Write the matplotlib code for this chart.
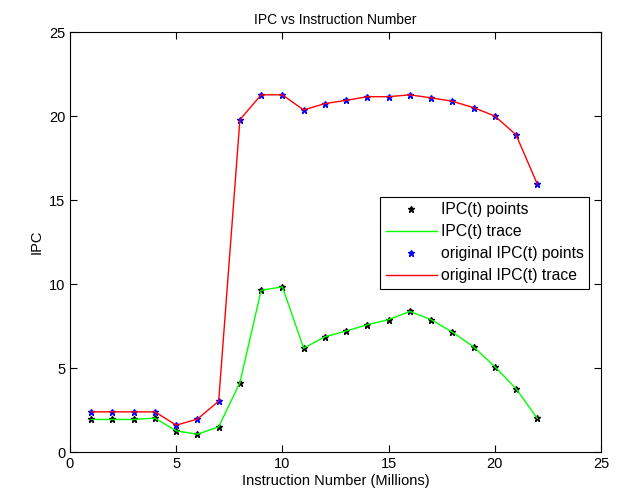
import numpy as np
import matplotlib
matplotlib.use("Agg")
import matplotlib.pyplot as plt

plt.rcParams['font.family'] = ['Liberation Sans', 'DejaVu Sans']

# Data
instr = np.arange(1, 23)
ipc = [1.94, 1.94, 1.94, 2.02, 1.26, 1.06, 1.50, 4.13, 9.63, 9.83, 6.18,
       6.86, 7.20, 7.58, 7.88, 8.37, 7.88, 7.14, 6.26, 5.08, 3.77, 2.00]
ipc_orig = [2.39, 2.39, 2.39, 2.39, 1.60, 1.96, 3.03, 19.78, 21.26, 21.26, 20.36,
            20.74, 20.93, 21.15, 21.15, 21.26, 21.08, 20.88, 20.50, 20.00, 18.88, 15.95]

fig = plt.figure(figsize=(6.21, 4.97), dpi=100)
ax = fig.add_axes([0.1127, 0.0905, 0.8551, 0.8451])

ax.plot(instr, ipc, '*', color='k', markersize=4.5, label='IPC(t) points')
ax.plot(instr, ipc, '-', color=(0, 1, 0), lw=1, label='IPC(t) trace')
ax.plot(instr, ipc_orig, '*', color='b', markersize=4.5, label='original IPC(t) points')
ax.plot(instr, ipc_orig, '-', color=(1, 0, 0), lw=1, label='original IPC(t) trace')

ax.set_xlim(0, 25)
ax.set_ylim(0, 25)
ax.set_xticks(range(0, 26, 5))
ax.set_yticks(range(0, 26, 5))
ax.tick_params(direction='in', top=True, right=True, labelsize=10.5, length=5)
for s in ax.spines.values():
    s.set_linewidth(0.8)

ax.set_title("IPC vs Instruction Number", fontsize=10)
ax.set_xlabel("Instruction Number (Millions)", fontsize=10.5, labelpad=2)
ax.set_ylabel("IPC", fontsize=10.5)

leg = ax.legend(loc='upper left', bbox_to_anchor=(0.584, 0.608), fontsize=11.3,
                frameon=True, fancybox=False, edgecolor='k', framealpha=1,
                borderpad=0.35, labelspacing=0.45, handlelength=3.3, handletextpad=0.2,
                borderaxespad=0)
leg.get_frame().set_linewidth(0.8)

fig.savefig("out.png", dpi=100)
